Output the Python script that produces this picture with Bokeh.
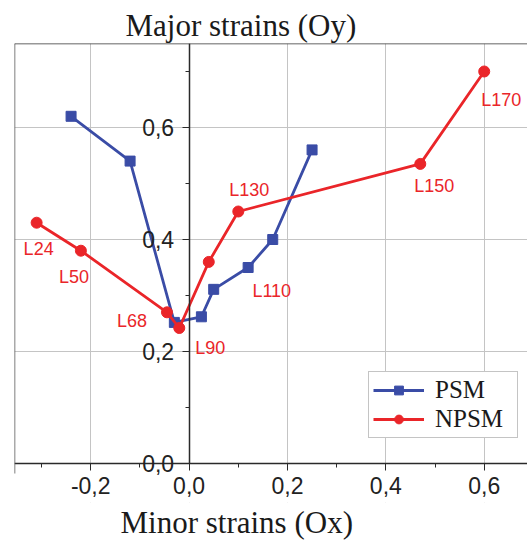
from bokeh.plotting import figure
from bokeh.models import (Range1d, FixedTicker, Span, Title, Legend, LegendItem,
                          ColumnDataSource, BoxAnnotation, LinearAxis)
from bokeh.core.properties import value
from bokeh.embed import file_html
from bokeh.resources import INLINE

# ---- data ----
psm_x = [-0.24, -0.12, -0.03, 0.025, 0.05, 0.12, 0.17, 0.25]
psm_y = [0.62, 0.54, 0.252, 0.262, 0.311, 0.35, 0.40, 0.56]

npsm_x = [-0.31, -0.22, -0.045, -0.02, 0.04, 0.10, 0.47, 0.60]
npsm_y = [0.43, 0.38, 0.27, 0.242, 0.36, 0.45, 0.535, 0.70]
npsm_labels = ["L24", "L50", "L68", "L90", "L110", "L130", "L150", "L170"]

x_major = [-0.2, 0.0, 0.2, 0.4, 0.6]
x_major_labels = ["-0,2", "0,0", "0,2", "0,4", "0,6"]
x_minor = [-0.3, -0.1, 0.1, 0.3, 0.5]
y_major = [0.0, 0.2, 0.4, 0.6]
y_major_labels = ["0,0", "0,2", "0,4", "0,6"]
y_minor = [0.1, 0.3, 0.5, 0.7]

# label placement (screen pixel offsets from each point)
label_dx = [2, -7, -35, 31, 63, 11, 14, 17]
label_dy = [26, 26, 9, 20, 29, -22, 22, 28]

BLUE = "#3a4ca6"
RED = "#ea2529"
AXIS = "#2a2a2a"

X0, X1 = -0.355, 0.688
Y0, Y1 = 0.0, 0.75
Y_PAD = -0.0696   # room below the x axis (inside the frame) for tick labels

p = figure(width=527, height=541, x_range=Range1d(X0, X1), y_range=Range1d(Y_PAD, Y1),
           output_backend="svg", toolbar_location=None,
           min_border_left=14, min_border_right=0, min_border_top=43, min_border_bottom=39)
p.outline_line_color = None
p.background_fill_color = "white"
p.border_fill_color = "white"

# title
p.title.text = "Major strains (Oy)"
p.title.align = "left"
p.title.offset = 111
p.title.text_font = "Liberation Serif"
p.title.text_font_size = "31px"
p.title.text_font_style = "normal"
p.title.text_color = "#1a1a1a"
p.title.standoff = 2

p.add_layout(Title(text="Minor strains (Ox)", align="left", offset=106,
                   text_font="Liberation Serif", text_font_size="31px",
                   text_font_style="normal", text_color="#1a1a1a", standoff=0), "below")

# x axis at y = 0
xa = p.xaxis[0]
xa.fixed_location = 0
xa.ticker = FixedTicker(ticks=x_major, minor_ticks=x_minor)
xa.major_label_overrides = {v: s for v, s in zip(x_major, x_major_labels)}
xa.major_label_text_font = "Liberation Sans"
xa.major_label_text_font_size = "23px"
xa.major_label_text_color = "#222222"
xa.major_label_standoff = 6
xa.major_tick_in = 0
xa.major_tick_out = 7
xa.minor_tick_in = 0
xa.minor_tick_out = 4
xa.axis_line_color = AXIS
xa.major_tick_line_color = AXIS
xa.minor_tick_line_color = AXIS
xa.axis_line_width = 1.5

# y axis at x = 0
ya = p.yaxis[0]
ya.fixed_location = 0
ya.bounds = (Y0, Y1)
ya.ticker = FixedTicker(ticks=y_major, minor_ticks=y_minor)
ya.major_label_overrides = {v: s for v, s in zip(y_major, y_major_labels)}
ya.major_label_text_font = "Liberation Sans"
ya.major_label_text_font_size = "23px"
ya.major_label_text_color = "#222222"
ya.major_label_standoff = 8
ya.major_tick_in = 0
ya.major_tick_out = 7
ya.minor_tick_in = 0
ya.minor_tick_out = 4
ya.axis_line_color = AXIS
ya.major_tick_line_color = AXIS
ya.minor_tick_line_color = AXIS
ya.axis_line_width = 1.5

# left frame edge as a bare axis line from y=0 to the top
edge = LinearAxis(fixed_location=X0, bounds=(Y0 - 0.018, Y1), ticker=FixedTicker(ticks=[]),
                  major_label_text_font_size="0px", axis_line_color="#555555",
                  axis_line_width=1.5, major_tick_line_color=None, minor_tick_line_color=None)
p.add_layout(edge, "left")

p.xgrid.grid_line_color = "#c4c4c4"
p.ygrid.grid_line_color = "#c4c4c4"
p.xgrid.grid_line_width = 1
p.ygrid.grid_line_width = 1
p.xgrid.ticker = FixedTicker(ticks=x_major)
p.ygrid.ticker = FixedTicker(ticks=y_major)

# top frame edge
p.add_layout(Span(location=Y1, dimension="width", line_color="#333333", line_width=1.5))
# blank the strip below the x axis (grid lines stop at y = 0)
p.add_layout(BoxAnnotation(top=Y0, fill_color="white", fill_alpha=1, line_alpha=0,
                           level="underlay"))

psm_src = ColumnDataSource(dict(x=psm_x, y=psm_y))
npsm_src = ColumnDataSource(dict(x=npsm_x, y=npsm_y, label=npsm_labels, dx=label_dx, dy=label_dy))

l1 = p.line("x", "y", source=psm_src, line_color=BLUE, line_width=2.8)
s1 = p.scatter("x", "y", source=psm_src, marker="square", size=10, fill_color=BLUE, line_color=BLUE)
l2 = p.line("x", "y", source=npsm_src, line_color=RED, line_width=2.8)
s2 = p.scatter("x", "y", source=npsm_src, marker="circle", size=11, fill_color=RED, line_color=RED)

p.text("x", "y", text="label", source=npsm_src, x_offset="dx", y_offset="dy",
       text_font=value("Liberation Sans"), text_font_size="18px", text_color=RED,
       text_align="center", text_baseline="middle")

legend = Legend(items=[LegendItem(label="PSM", renderers=[l1, s1]),
                       LegendItem(label="NPSM", renderers=[l2, s2])],
                location=(354, 64))
legend.label_text_font = "Liberation Serif"
legend.label_text_font_size = "25px"
legend.label_text_color = "#1a1a1a"
legend.glyph_width = 51
legend.glyph_height = 22
legend.label_width = 78
legend.label_standoff = 11
legend.padding = 4
legend.spacing = 1
legend.margin = 0
legend.border_line_color = "#8a8a8a"
legend.border_line_width = 1
legend.background_fill_color = "white"
legend.background_fill_alpha = 1
p.add_layout(legend)

open("out.html", "w").write(file_html(p, INLINE))
